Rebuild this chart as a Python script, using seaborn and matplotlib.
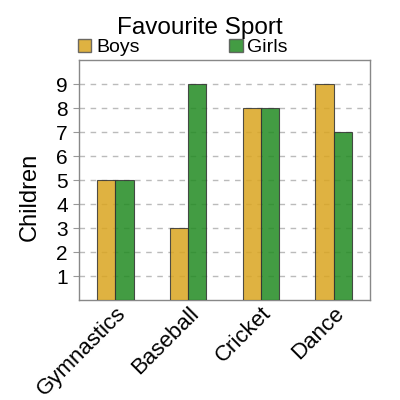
import pandas as pd
import matplotlib
matplotlib.use("Agg")
import matplotlib.pyplot as plt
from matplotlib.patches import Patch
import seaborn as sns

sports = ["Gymnastics", "Baseball", "Cricket", "Dance"]
boys = [5, 3, 8, 9]
girls = [5, 9, 8, 7]
y_ticks = [1, 2, 3, 4, 5, 6, 7, 8, 9]

df = pd.DataFrame({
    "Sport": sports * 2,
    "Children": boys + girls,
    "Group": ["Boys"] * len(sports) + ["Girls"] * len(sports),
})

sns.set_style("white")
plt.rcParams["font.family"] = ["Liberation Sans", "DejaVu Sans"]
plt.rcParams["text.color"] = "black"

fig = plt.figure(figsize=(4, 4), dpi=100)
ax = fig.add_axes([0.1975, 0.25, 0.7275, 0.60])

palette = {"Boys": "#DAA520", "Girls": "#228B22"}
sns.barplot(data=df, x="Sport", y="Children", hue="Group", palette=palette,
            width=0.5, saturation=1, alpha=0.85, edgecolor="#333333", linewidth=0.8,
            legend=False, ax=ax, zorder=3)

ax.set_ylim(0, 10)
ax.set_xlim(-0.5, 3.5)
ax.set_yticks(y_ticks)
ax.yaxis.grid(True, linestyle=(0, (4, 4)), color="#bbbbbb", linewidth=1, zorder=0)
ax.set_axisbelow(True)
ax.tick_params(axis="y", length=4, color="#999999", labelcolor="black", labelsize=15, pad=4, left=True)
ax.tick_params(axis="x", length=0, labelcolor="black", labelsize=16, pad=2)
plt.setp(ax.get_xticklabels(), rotation=45, ha="right", rotation_mode="anchor")
for s in ax.spines.values():
    s.set_color("#888888")
    s.set_linewidth(1)
ax.set_xlabel("")
ax.set_ylabel("Children", fontsize=17, color="black")
ax.yaxis.set_label_coords(-0.13, 0.43)

handles = [Patch(facecolor=palette[g], alpha=0.85, edgecolor="#555555", label=g)
           for g in ["Boys", "Girls"]]
ax.legend(handles=handles, loc="center left", bbox_to_anchor=(-0.005, 1.052), ncol=2,
          frameon=False, fontsize=14, handlelength=0.7, handleheight=0.7,
          handletextpad=0.25, columnspacing=4.6, borderaxespad=0, borderpad=0)
fig.text(0.5, 0.93, "Favourite Sport", ha="center", va="center", fontsize=17.5)

fig.savefig("out.png", dpi=100)
